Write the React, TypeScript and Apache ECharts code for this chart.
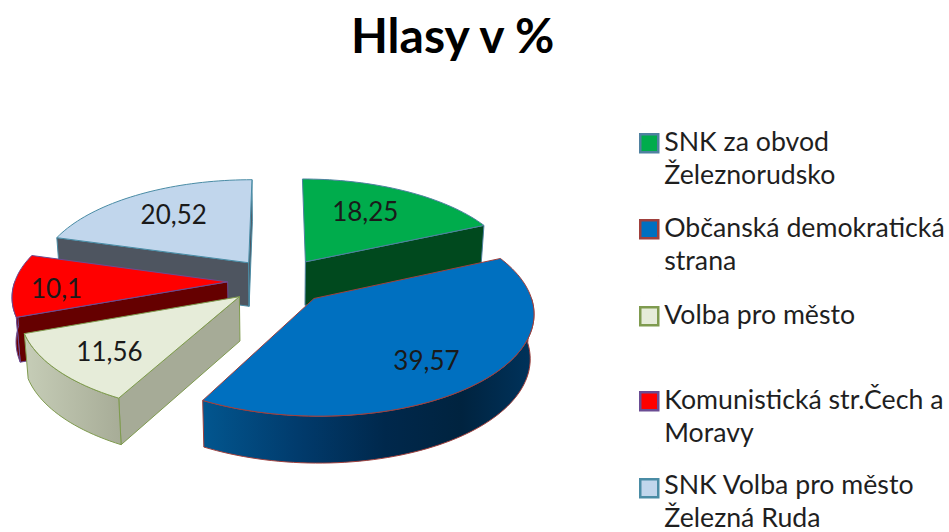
import React, { useEffect, useRef } from "react";
import * as echarts from "echarts";

const TITLE = "Hlasy v %";
const names = [
  "SNK za obvod\nŽeleznorudsko",
  "Občanská demokratická\nstrana",
  "Volba pro město",
  "Komunistická str.Čech a\nMoravy",
  "SNK Volba pro město\nŽelezná Ruda",
];
const values = [18.25, 39.57, 11.56, 10.1, 20.52];
const valueLabels = ["18,25", "39,57", "11,56", "10,1", "20,52"];

const topColors = ["#00ac4c", "#0070c0", "#e6ecd9", "#ff0000", "#c1d6ec"];
const borderColors = ["#4f81a0", "#a0403c", "#7f9b4f", "#6a4c93", "#4a8ca5"];
const wallColors = ["#00491e", "#003a66", "#a6ab97", "#650000", "#4e5560"];
const arcStops: [number, string][][] = [
  [[0, "#00491e"], [1, "#00491e"]],
  [[0, "#02568f"], [0.3, "#013a6b"], [0.55, "#00284c"], [0.78, "#00233f"], [1, "#00335c"]],
  [[0, "#c6cdb7"], [1, "#a7ac97"]],
  [[0, "#7a0000"], [1, "#650000"]],
  [[0, "#4e5560"], [1, "#4e5560"]],
];
const drawOrder = [4, 0, 3, 2, 1];
const labelRadius = [0.62, 0.76, 0.74, 0.8, 0.6];
const labelDx = [-4, -12, 2, 0, -6];
const labelDy = [-6, -1, 0, 2, -7];
const legendTops = [123, 209, 296, 381, 466];
const legendIconShift = [2.5, 2.5, 2.5, 2.5, 4.5];

const CX = 278.5;
const CY = 281;
const RX = 212.7;
const RY = 97.9;
const PERSPECTIVE = 0.127;
const EXPLODE = 0.239;
const DEPTH = 44;
const BOTTOM_SCALE = 0.985;
const FONT = "Lato, Carlito, Calibri, sans-serif";
const LINE_H = 33;

const total = values.reduce((a, b) => a + b, 0);
const startAngles: number[] = [];
values.reduce((acc, v, i) => {
  startAngles[i] = (acc / total) * Math.PI * 2;
  return acc + v;
}, 0);

function project(X: number, Y: number, drop: boolean): number[] {
  const p = 1 / (1 - PERSPECTIVE * Y);
  const k = drop ? BOTTOM_SCALE : 1;
  return [CX + RX * X * p * k, CY + RY * Y * p + (drop ? DEPTH * Math.pow(p, 0.4) : 0)];
}

function renderSlice(i: number) {
  const a0 = startAngles[i];
  const a1 = a0 + (values[i] / total) * Math.PI * 2;
  const mid = (a0 + a1) / 2;
  const ox = Math.sin(mid) * EXPLODE;
  const oy = -Math.cos(mid) * EXPLODE;
  const rim = (a: number, drop: boolean, r = 1) =>
    project(ox + r * Math.sin(a), oy - r * Math.cos(a), drop);
  const arc = (from: number, to: number, drop: boolean) => {
    const steps = Math.max(2, Math.ceil(Math.abs(to - from) / 0.03));
    const pts: number[][] = [];
    for (let s = 0; s <= steps; s++) pts.push(rim(from + ((to - from) * s) / steps, drop));
    return pts;
  };
  const stroke = { stroke: borderColors[i], lineWidth: 1 };
  const children: any[] = [];
  const wall = (a: number) => ({
    type: "polygon",
    shape: { points: [rim(a, false, 0), rim(a, false), rim(a, true), rim(a, true, 0)] },
    style: { fill: wallColors[i], ...stroke },
  });
  if (Math.sin(a0) < 0) children.push(wall(a0));
  if (Math.sin(a1) > 0) children.push(wall(a1));
  const arcFrom = Math.max(a0, Math.PI / 2);
  const arcTo = Math.min(a1, (Math.PI * 3) / 2);
  if (arcTo > arcFrom) {
    children.push({
      type: "polygon",
      shape: { points: [...arc(arcFrom, arcTo, false), ...arc(arcTo, arcFrom, true)] },
      style: {
        fill: new echarts.graphic.LinearGradient(
          0, 0, 1, 0,
          arcStops[i].map(([offset, color]) => ({ offset, color })),
        ),
        ...stroke,
      },
    });
  }
  children.push({
    type: "polygon",
    shape: { points: [rim(a0, false, 0), ...arc(a0, a1, false)] },
    style: { fill: topColors[i], ...stroke },
  });
  const [lx, ly] = rim(mid, false, labelRadius[i]);
  children.push({
    type: "text",
    x: lx + labelDx[i],
    y: ly + labelDy[i] + 1,
    style: {
      text: valueLabels[i],
      x: 0,
      y: 0,
      fill: "#1a1a1a",
      font: `26px ${FONT}`,
      textAlign: "center",
      textVerticalAlign: "middle",
    },
  });
  return { type: "group", children };
}

function legendIcon(lines: number, size: number, shift: number) {
  const h = lines * LINE_H;
  const t = (LINE_H - size) / 2 + shift;
  return `path://M0 0L0.01 0M0 ${t}H${size}V${t + size}H0ZM${size} ${h}L${size - 0.01} ${h}`;
}

export default function App() {
  const ref = useRef<HTMLDivElement>(null);
  useEffect(() => {
    const chart = echarts.init(ref.current!, undefined, { renderer: "svg" });
    chart.setOption({
      animation: false,
      backgroundColor: "#ffffff",
      title: {
        text: TITLE,
        left: 351,
        top: 10,
        padding: 0,
        textStyle: { fontFamily: FONT, fontWeight: "bold", fontSize: 48, color: "#000000" },
      },
      legend: names.map((name, i) => {
        const lines = name.split("\n").length;
        return {
          left: 639,
          top: legendTops[i],
          padding: 0,
          orient: "vertical",
          selectedMode: false,
          itemWidth: 18,
          itemHeight: lines * LINE_H,
          itemGap: 0,
          textStyle: {
            fontFamily: FONT,
            fontSize: 26.7,
            lineHeight: LINE_H,
            color: "#1f1f1f",
            padding: [0, 0, 0, 1],
          },
          data: [
            {
              name,
              icon: legendIcon(lines, 18, legendIconShift[i]),
              itemStyle: { color: topColors[i], borderColor: borderColors[i], borderWidth: 2.5 },
            },
          ],
        };
      }),
      series: names.map((name, i) => ({
        type: "custom",
        name,
        coordinateSystem: "none",
        z: 2 + drawOrder.indexOf(i),
        itemStyle: { color: topColors[i] },
        silent: true,
        data: [values[i]],
        renderItem: () => renderSlice(i),
      })),
    });
    return () => chart.dispose();
  }, []);
  return (
    <div
      ref={ref}
      style={{ position: "fixed", left: 0, top: 0, width: 949, height: 532 }}
    />
  );
}
